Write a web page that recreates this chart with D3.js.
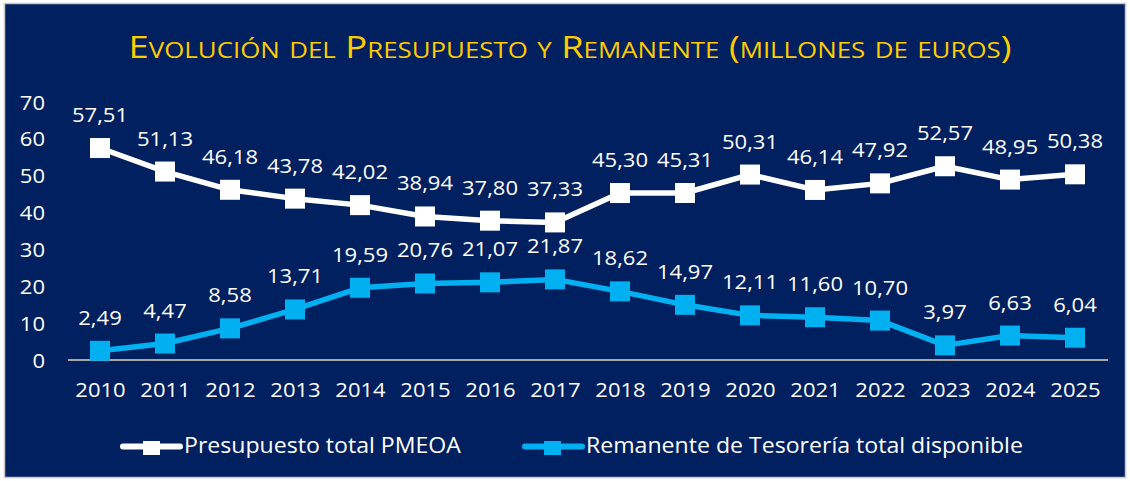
<!DOCTYPE html>
<html><head><meta charset="utf-8">
<script src="https://cdn.jsdelivr.net/npm/d3@7"></script>
<style>
html,body{margin:0;padding:0;background:#fff;}
svg{display:block;}
text{font-family:"Open Sans",sans-serif;}
</style></head>
<body>
<svg id="c" width="1130" height="481"></svg>
<script>
const years = ["2010","2011","2012","2013","2014","2015","2016","2017","2018","2019","2020","2021","2022","2023","2024","2025"];
const presupuesto = [57.51,51.13,46.18,43.78,42.02,38.94,37.80,37.33,45.30,45.31,50.31,46.14,47.92,52.57,48.95,50.38];
const remanente = [2.49,4.47,8.58,13.71,19.59,20.76,21.07,21.87,18.62,14.97,12.11,11.60,10.70,3.97,6.63,6.04];
const yTicks = [0,10,20,30,40,50,60,70];
const seriesNames = ["Presupuesto total PMEOA","Remanente de Tesorería total disponible"];
const colors = ["#ffffff","#00b0f0"];

const svg = d3.select("#c");
svg.append("rect").attr("x",4.5).attr("y",3.5).attr("width",1121).attr("height",474)
  .attr("fill","#002060").attr("stroke","#c8c8c8").attr("stroke-width",1.5);

svg.append("text").attr("transform","translate(570,58) scale(1.175,1)").attr("text-anchor","middle")
  .attr("fill","#ffcc00").style("font-size","31px").style("font-variant","small-caps")
  .text("Evolución del Presupuesto y Remanente (millones de euros)");

const x = d3.scalePoint().domain(years).range([100,1075]);
const y = d3.scaleLinear().domain([0,70]).range([360,102]);
const SX = 1.13;

const ya = svg.append("g").attr("transform","translate(45,0)")
  .call(d3.axisLeft(y).tickValues(yTicks).tickSize(0).tickPadding(0));
ya.select(".domain").remove();
ya.selectAll("text").attr("fill","#fff").style("font-size","19.5px").style("font-family","'Open Sans',sans-serif")
  .attr("x",0).attr("text-anchor","end").attr("dy","0.36em").attr("transform",`scale(${SX},1)`);

const xa = svg.append("g").attr("transform","translate(0,360)")
  .call(d3.axisBottom(x).tickSize(0).tickPadding(23));
xa.select(".domain").attr("d","M68,0H1108").attr("stroke","#a6a6a6").attr("stroke-width",2);
xa.selectAll("text").attr("fill","#fff").style("font-size","19.5px").style("font-family","'Open Sans',sans-serif")
  .attr("transform",`scale(${SX},1)`);

const fmt = v => v.toFixed(2).replace(".",",");
const line = d3.line().x((d,i)=>x(years[i])).y(d=>y(d));
[presupuesto, remanente].forEach((data,k)=>{
  const g = svg.append("g");
  g.append("path").datum(data).attr("d",line).attr("fill","none")
    .attr("stroke",colors[k]).attr("stroke-width",5.5).attr("stroke-linejoin","round");
  g.selectAll("rect").data(data).join("rect")
    .attr("x",(d,i)=>x(years[i])-10).attr("y",d=>y(d)-10).attr("width",20).attr("height",20)
    .attr("fill",colors[k]);
  g.selectAll("text").data(data).join("text")
    .attr("transform",(d,i)=>`translate(${x(years[i])},${y(d)-26}) scale(${SX},1)`)
    .attr("text-anchor","middle")
    .attr("fill","#fff").style("font-size","19.5px").text(fmt);
});

const leg = [{x0:123, x1:180, rx:143, tx:184},{x0:525, x1:582, rx:544, tx:586}];
leg.forEach((l,k)=>{
  const g = svg.append("g");
  g.append("line").attr("x1",l.x0).attr("x2",l.x1).attr("y1",446.5).attr("y2",446.5)
    .attr("stroke",colors[k]).attr("stroke-width",6).attr("stroke-linecap","round");
  g.append("rect").attr("x",l.rx).attr("y",441).attr("width",17).attr("height",14).attr("fill",colors[k]);
  g.append("text").attr("transform",`translate(${l.tx},453) scale(1.1,1)`).attr("fill","#fff")
    .style("font-size","21px").text(seriesNames[k]);
});
</script>
</body></html>
